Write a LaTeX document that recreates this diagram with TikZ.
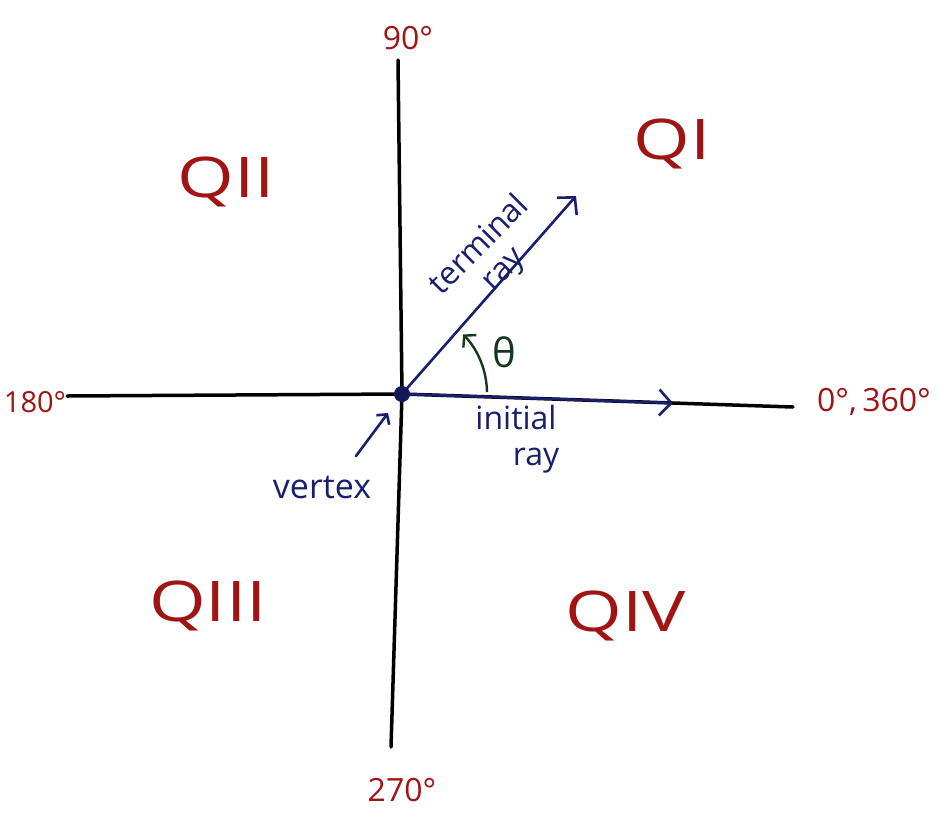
\documentclass[tikz,border=0pt]{standalone}
\usepackage{fontspec}
\setmainfont{Open Sans}
\usetikzlibrary{arrows.meta}
\definecolor{penred}{RGB}{160,20,20}
\definecolor{penblue}{RGB}{25,30,110}
\definecolor{pengreen}{RGB}{20,55,30}
\tikzset{
  axisline/.style={line width=3.5pt, black, line cap=round},
  rayline/.style={line width=2.6pt, penblue, line cap=round,
     -{Straight Barb[length=12pt,width=26pt,line width=2.6pt]}},
  quad/.style={text=penred, font=\fontsize{56}{60}\selectfont, xscale=1.3},
  deg/.style={text=penred, font=\fontsize{32}{34}\selectfont},
  bluetxt/.style={text=penblue, font=\fontsize{32}{34}\selectfont, inner sep=0pt, align=center},
}
\begin{document}
\begin{tikzpicture}[x=1pt,y=-1pt]
\useasboundingbox[fill=white] (0,0) rectangle (939,817);
% coordinates
\coordinate (O) at (402,394);
\coordinate (top) at (398,60);
\coordinate (bot) at (391,747);
\coordinate (left) at (67,396);
\coordinate (right) at (793,407);
\coordinate (iend) at (673,403);
\coordinate (tend) at (576,196);
\coordinate (vtail) at (356,456);
\coordinate (vhead) at (388,413);
% axes
\draw[axisline] (top) -- (O) -- (bot);
\draw[axisline] (left) -- (O) -- (right);
% rays
\draw[rayline] (O) -- (iend);
\draw[rayline] (O) -- (tend);
\fill[penblue!80!black] (O) circle (8pt);
% angle arc
\draw[line width=2.4pt, pengreen, -{Straight Barb[length=8pt,width=18pt,line width=2.4pt]}]
  (487,392) arc[start angle=1, end angle=44, radius=85pt];
\node[text=pengreen, font=\fontsize{40}{42}\selectfont, inner sep=0pt] (theta) at (504,352) {θ};
% vertex arrow
\draw[line width=2.6pt, penblue, line cap=round, -{Straight Barb[length=7pt,width=16pt,line width=2.6pt]}] (vtail) -- (vhead);
\node[bluetxt, font=\fontsize{34}{36}\selectfont] (vertex) at (322,487) {vertex};
% ray labels
\node[bluetxt, rotate=45] (term) at (492,258) {terminal\\ray};
\node[bluetxt] (init) at (516,439) {initial\\[2pt]\hspace*{40pt}ray};
% quadrant labels
\node[quad] (q1) at (672,144) {QI};
\node[quad] (q2) at (226,182) {QII};
\node[quad] (q3) at (208,606) {QIII};
\node[quad] (q4) at (626,616) {QIV};
% degree labels
\node[deg] (d90) at (408,38) {90°};
\node[deg, font=\fontsize{29}{32}\selectfont] (d180) at (35,402) {180°};
\node[deg] (d0) at (874,402) {0°,\,360°};
\node[deg] (d270) at (402,790) {270°};
\end{tikzpicture}
\end{document}
